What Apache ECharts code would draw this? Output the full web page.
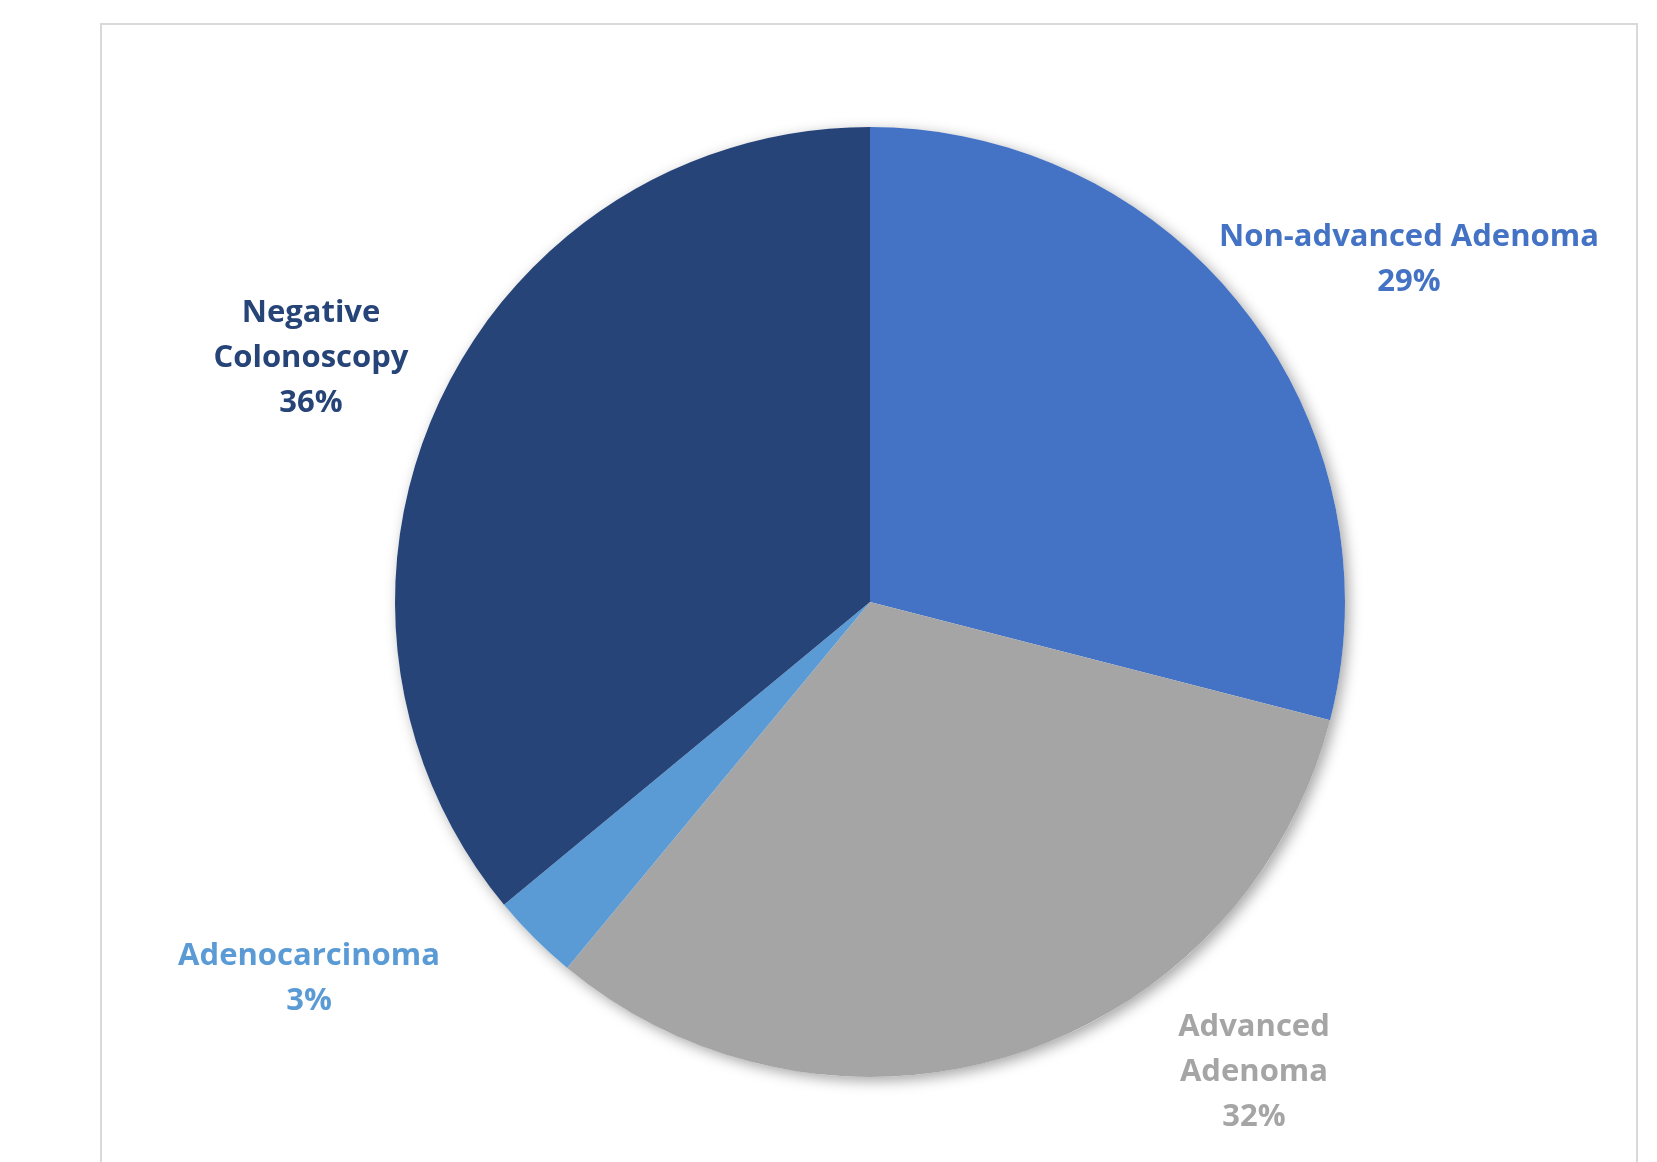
<!DOCTYPE html>
<html>
<head>
<meta charset="utf-8">
<script src="https://cdn.jsdelivr.net/npm/echarts@6/dist/echarts.min.js"></script>
<style>
  html, body { margin: 0; padding: 0; background: #ffffff; }
  #chart { width: 1657px; height: 1162px; }
</style>
</head>
<body>
<div id="chart"></div>
<script>
// Colonoscopy outcomes, in clockwise order from 12 o'clock
const categories = ['Non-advanced Adenoma', 'Advanced Adenoma', 'Adenocarcinoma', 'Negative Colonoscopy'];
const values = [29, 32, 3, 36];
const sliceColors = ['#4472C4', '#A5A5A5', '#5B9BD5', '#264478'];
// label text as laid out (line breaks)
const labelNames = ['Non-advanced Adenoma', 'Advanced\nAdenoma', 'Adenocarcinoma', 'Negative\nColonoscopy'];

// label anchor points (centre of each label block)
const labelCenters = [[1409, 260], [1254, 1072], [309, 979], [311, 358]];

const total = values.reduce((a, b) => a + b, 0);
const center = [870, 602];
const radius = 475;

const chart = echarts.init(document.getElementById('chart'));
chart.setOption({
  backgroundColor: '#ffffff',
  animation: false,
  graphic: [{
    type: 'rect',
    shape: { x: 101, y: 24, width: 1536, height: 1200 },
    style: { fill: 'none', stroke: '#d9d9d9', lineWidth: 2 },
    silent: true,
    z: 0
  }],
  series: [
    {
      // soft drop shadow behind the whole disc
      type: 'pie',
      silent: true,
      center: center,
      radius: [0, radius],
      label: { show: false },
      labelLine: { show: false },
      z: 1,
      data: [{
        value: total,
        itemStyle: {
          color: '#ffffff',
          shadowColor: 'rgba(0,0,0,0.35)',
          shadowBlur: 14,
          shadowOffsetX: 4,
          shadowOffsetY: 4
        }
      }]
    },
    {
      type: 'pie',
      center: center,
      radius: [0, radius],
      startAngle: 90,
      clockwise: true,
      z: 2,
      itemStyle: { borderWidth: 0 },
      labelLine: { show: false },
      data: categories.map((c, i) => ({
        name: c,
        value: values[i],
        itemStyle: { color: sliceColors[i] },
        label: { color: sliceColors[i] }
      })),
      label: {
        show: true,
        position: 'inside',
        overflow: 'none',
        fontFamily: 'Open Sans',
        fontWeight: 'bold',
        fontSize: 31,
        lineHeight: 45,
        align: 'center',
        verticalAlign: 'middle',
        formatter: p => labelNames[p.dataIndex] + '\n' + p.value + '%'
      },
      labelLayout: p => ({
        x: labelCenters[p.dataIndex][0],
        y: labelCenters[p.dataIndex][1],
        align: 'center',
        verticalAlign: 'middle'
      })
    }
  ]
});
</script>
</body>
</html>
